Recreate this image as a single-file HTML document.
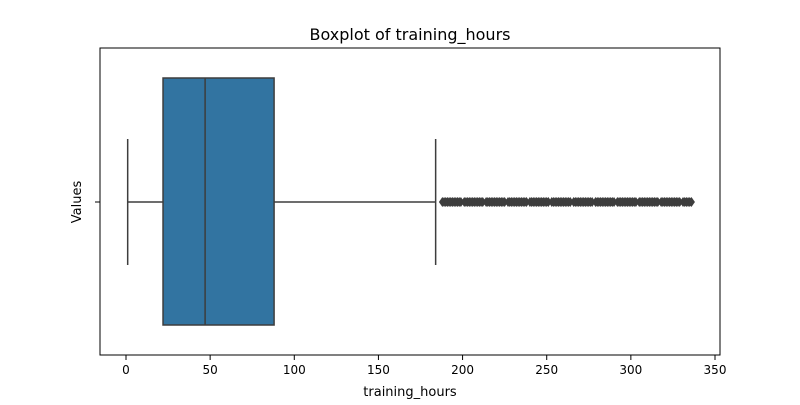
<!DOCTYPE html>
<html><head><meta charset="utf-8"><style>
body{margin:0;background:#fff}
svg text{font-family:"DejaVu Sans","Liberation Sans",sans-serif;fill:#000}
</style></head><body>
<svg width="800" height="400" xmlns="http://www.w3.org/2000/svg">
<rect width="800" height="400" fill="#fff"/>
<text x="410" y="40" font-size="16" text-anchor="middle">Boxplot of training_hours</text>
<g id="plot"></g>
<rect x="100" y="48" width="620" height="307" fill="none" stroke="#000" stroke-width="1"/>
<text x="410" y="396" font-size="13" text-anchor="middle">training_hours</text>
<text x="0" y="0" font-size="13" text-anchor="middle" transform="translate(81,202) rotate(-90)">Values</text>
<line x1="95" y1="202" x2="100" y2="202" stroke="#000"/>
</svg>
<script>
const ticks=[0,50,100,150,200,250,300,350];
const stats={min:1,q1:22,median:47,q3:88,max:184};
const outliers=[];
for(let v=188;v<=336;v++){if((v-188)%13!==12)outliers.push(v);}
const x=v=>126+v*(715-126)/350;
const g=document.getElementById('plot');
const NS='http://www.w3.org/2000/svg';
function mk(t,a,name){const e=document.createElementNS(NS,t);for(const k in a)e.setAttribute(k,a[k]);


g.appendChild(e);return e;}
ticks.forEach(t=>{mk('line',{x1:x(t),x2:x(t),y1:355,y2:360,stroke:'#000'},'x-tick');
const tx=mk('text',{x:x(t),y:374,'font-size':12,'text-anchor':'middle'},'x-tick-label');tx.textContent=t;});
const c='#3d3d3d',yc=202,boxTop=78,boxBot=325;
mk('line',{x1:x(stats.min),x2:x(stats.q1),y1:yc,y2:yc,stroke:c,'stroke-width':1.5},'lower-whisker');
mk('line',{x1:x(stats.q3),x2:x(stats.max),y1:yc,y2:yc,stroke:c,'stroke-width':1.5},'upper-whisker');
mk('line',{x1:x(stats.min),x2:x(stats.min),y1:139,y2:265,stroke:c,'stroke-width':1.5},'lower-cap');
mk('line',{x1:x(stats.max),x2:x(stats.max),y1:139,y2:265,stroke:c,'stroke-width':1.5},'upper-cap');
mk('rect',{x:x(stats.q1),y:boxTop,width:x(stats.q3)-x(stats.q1),height:boxBot-boxTop,fill:'#3274a1',stroke:c,'stroke-width':1.5},'iqr-box');
mk('line',{x1:x(stats.median),x2:x(stats.median),y1:boxTop,y2:boxBot,stroke:c,'stroke-width':1.5},'median-line');
outliers.forEach(v=>{const px=x(v);
mk('polygon',{points:`${px},${yc-5} ${px+3.5},${yc} ${px},${yc+5} ${px-3.5},${yc}`,fill:c},'outlier');});
</script>
</body></html>
